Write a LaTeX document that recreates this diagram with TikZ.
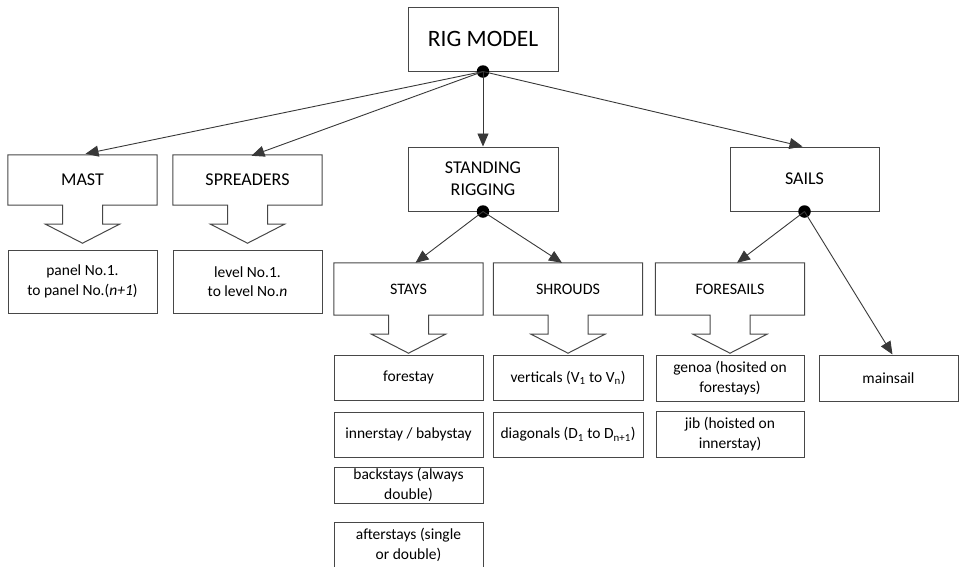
\documentclass[tikz,border=0pt]{standalone}
\usepackage{fontspec}
\setmainfont{Carlito}
\usetikzlibrary{arrows.meta,calc}
\tikzset{
  boxline/.style={draw=black!72, line width=1pt},
  plainbox/.style={boxline, minimum width=149pt, inner sep=0pt, align=center, font=\fontsize{15.5}{19.5}\selectfont},
  headbox/.style={boxline, minimum width=150pt, minimum height=64pt, inner sep=0pt, align=center, font=\fontsize{18}{22}\selectfont},
  cobox/.style={minimum width=149pt, inner sep=0pt, align=center},
  cofont/.style={font=\fontsize{18}{22}\selectfont},
  subfont/.style={font=\fontsize{16}{20}\selectfont},
  conn/.style={draw=black!78, line width=0.9pt, -{Triangle[length=13pt,width=11pt]}},
  dot/.style={circle, fill=black, minimum size=12.5pt, inner sep=0pt},
}
\newcommand\calloutline[1]{%
  \draw[boxline] (#1.north west) -- (#1.north east) -- (#1.south east)
    -- ($(#1.south)+(20,0)$) -- ($(#1.south)+(20,19)$) -- ($(#1.south)+(37,19)$)
    -- ($(#1.south)+(0,38)$) -- ($(#1.south)+(-37,19)$) -- ($(#1.south)+(-20,19)$)
    -- ($(#1.south)+(-20,0)$) -- (#1.south west) -- cycle;}
\begin{document}
\begin{tikzpicture}[x=1pt,y=-1pt]
\useasboundingbox (0,0) rectangle (959,566);
\clip (0,0) rectangle (959,566);
% top level
\node[headbox, font=\fontsize{23.5}{27}\selectfont] (rig) at (483,39) {RIG MODEL};
\node[headbox] (standing) at (483,179) {STANDING\\RIGGING};
\node[headbox, minimum width=149pt] (sails) at (804.5,179) {SAILS};
% callouts level 2
\node[cobox, cofont, minimum height=50pt] (mast) at (82.5,180) {MAST};
\calloutline{mast}
\node[cobox, cofont, minimum height=50pt] (spreaders) at (247.5,180) {SPREADERS};
\calloutline{spreaders}
\node[cobox, subfont, minimum height=52pt] (stays) at (408.5,289) {STAYS};
\calloutline{stays}
\node[cobox, subfont, minimum height=52pt] (shrouds) at (568,289) {SHROUDS};
\calloutline{shrouds}
\node[cobox, subfont, minimum height=52pt] (foresails) at (730,289) {FORESAILS};
\calloutline{foresails}
% leaf boxes
\node[plainbox, minimum height=63pt] (panel) at (82.5,281.5) {panel No.1.\\to panel No.(\textit{n+1})};
\node[plainbox, minimum height=63pt] (level) at (247.5,281.5) {level No.1.\\to level No.\textit{n}};
\node[plainbox, minimum height=45pt] (forestay) at (408.5,377.5) {forestay};
\node[plainbox, minimum height=45pt] (innerstay) at (408.5,434.5) {innerstay / babystay};
\node[plainbox, minimum height=36pt] (backstays) at (408.5,485) {backstays (always\\double)};
\node[plainbox, minimum height=56pt, text depth=0pt] (afterstays) at (408.5,550) {};
\node[align=center, font=\fontsize{15.5}{19.5}\selectfont, anchor=north] (aftertext) at (408.5,525) {afterstays (single\\or double)};
\node[plainbox, minimum width=150pt, minimum height=45pt] (verticals) at (568,377.5) {verticals (V\textsubscript{1} to V\textsubscript{n})};
\node[plainbox, minimum width=150pt, minimum height=45pt] (diagonals) at (568,434.5) {diagonals (D\textsubscript{1} to D\textsubscript{n+1})};
\node[plainbox, minimum width=148pt, minimum height=46pt] (genoa) at (730,378) {genoa (hosited on\\forestays)};
\node[plainbox, minimum width=148pt, minimum height=46pt] (jib) at (730,434) {jib (hoisted on\\innerstay)};
\node[plainbox, minimum width=139pt, minimum height=46pt] (mainsail) at (888.5,378) {mainsail};
% dots
\node[dot] (rigdot) at (rig.south) {};
\node[dot] (standdot) at (standing.south) {};
\node[dot] (sailsdot) at (sails.south) {};
% connectors
\draw[conn] (rigdot.center) -- ($(mast.north)+(3,-1)$);
\draw[conn] (rigdot.center) -- ($(spreaders.north)+(4,1)$);
\draw[conn] (rigdot.center) -- (standing.north);
\draw[conn] (rigdot.center) -- ($(sails.north)+(-2,0)$);
\draw[conn] (standdot.center) -- ($(stays.north)+(7,0)$);
\draw[conn] (standdot.center) -- ($(shrouds.north)+(-6,0)$);
\draw[conn] (sailsdot.center) -- ($(foresails.north)+(7,0)$);
\draw[conn] (sailsdot.center) -- ($(mainsail.north)+(4,0)$);
\end{tikzpicture}
\end{document}
